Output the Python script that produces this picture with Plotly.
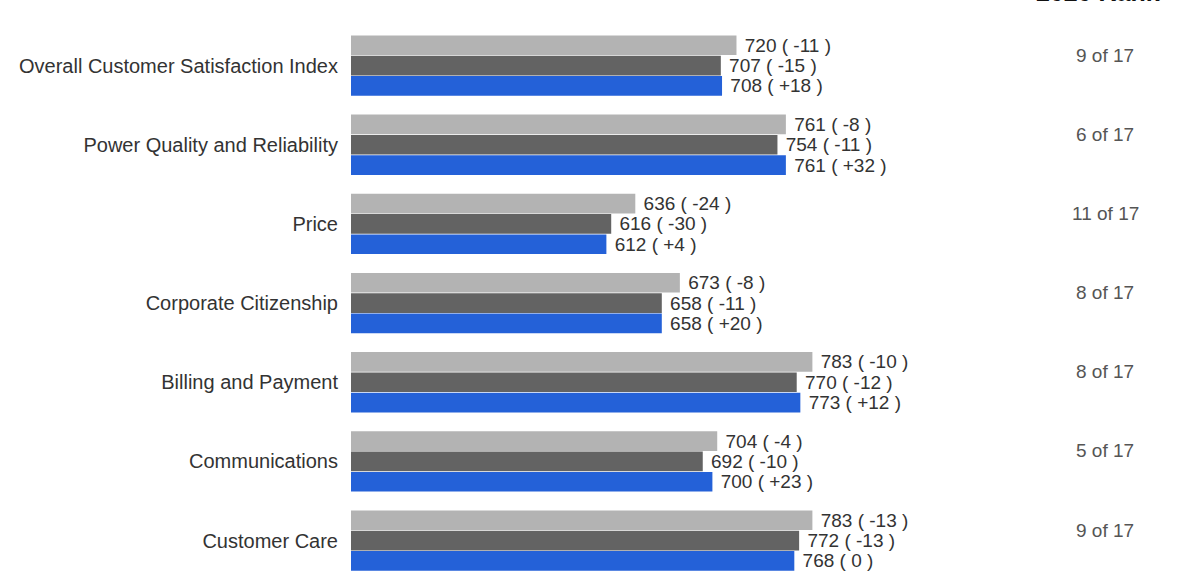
import plotly.graph_objects as go

categories = [
    "Overall Customer Satisfaction Index",
    "Power Quality and Reliability",
    "Price",
    "Corporate Citizenship",
    "Billing and Payment",
    "Communications",
    "Customer Care",
]
series_names = ["Comparison A", "Comparison B", "Company"]
values_a = [720, 761, 636, 673, 783, 704, 783]
change_a = ["-11", "-8", "-24", "-8", "-10", "-4", "-13"]
values_b = [707, 754, 616, 658, 770, 692, 772]
change_b = ["-15", "-11", "-30", "-11", "-12", "-10", "-13"]
values_c = [708, 761, 612, 658, 773, 700, 768]
change_c = ["+18", "+32", "+4", "+20", "+12", "+23", "0"]
ranks = ["9 of 17", "6 of 17", "11 of 17", "8 of 17", "8 of 17", "5 of 17", "9 of 17"]
rank_header = "2020 Rank"

colors = ["#b3b3b3", "#636363", "#2461d8"]
font_family = "Liberation Sans, Arial, sans-serif"

fig = go.Figure()
for name, vals, chg, col in zip(series_names, [values_a, values_b, values_c],
                                [change_a, change_b, change_c], colors):
    fig.add_trace(go.Bar(
        y=categories, x=vals, orientation="h", name=name,
        marker=dict(color=col, line=dict(width=0)),
        text=[f" {v} ( {c} )" for v, c in zip(vals, chg)],
        textposition="outside", constraintext="none", cliponaxis=False,
        textfont=dict(family=font_family, size=19, color="#333333"),
        hoverinfo="skip",
    ))

# rank column (x in paper coords: plot area spans 351..1178 px)
for cat, r in zip(categories, ranks):
    fig.add_annotation(x=(1105 - 351) / 827, xref="paper", y=cat, yref="y", text=r,
                       showarrow=False, xanchor="center", yshift=10.5,
                       font=dict(family=font_family, size=19, color="#555555"))

fig.add_annotation(x=(1098 - 351) / 827, xref="paper", y=1, yref="paper",
                   yanchor="bottom", yshift=18, xanchor="center",
                   text=f"<b>{rank_header}</b>", showarrow=False,
                   font=dict(family=font_family, size=25, color="#111111"))

fig.update_layout(
    width=1178, height=577,
    margin=dict(l=351, r=0, t=26, b=0),
    barmode="group", bargap=0.23, bargroupgap=0.03,
    plot_bgcolor="white", paper_bgcolor="white",
    showlegend=False,
    font=dict(family=font_family, size=19, color="#333333"),
    xaxis=dict(range=[400, 1086.5], showgrid=False, zeroline=False,
               showticklabels=False, ticks=""),
    yaxis=dict(categoryorder="array", categoryarray=categories,
               range=[6.46, -0.5], showgrid=False, zeroline=False, ticks="",
               ticklabelstandoff=12,
               tickfont=dict(family=font_family, size=20, color="#333333")),
)

fig.write_html("out.html")
